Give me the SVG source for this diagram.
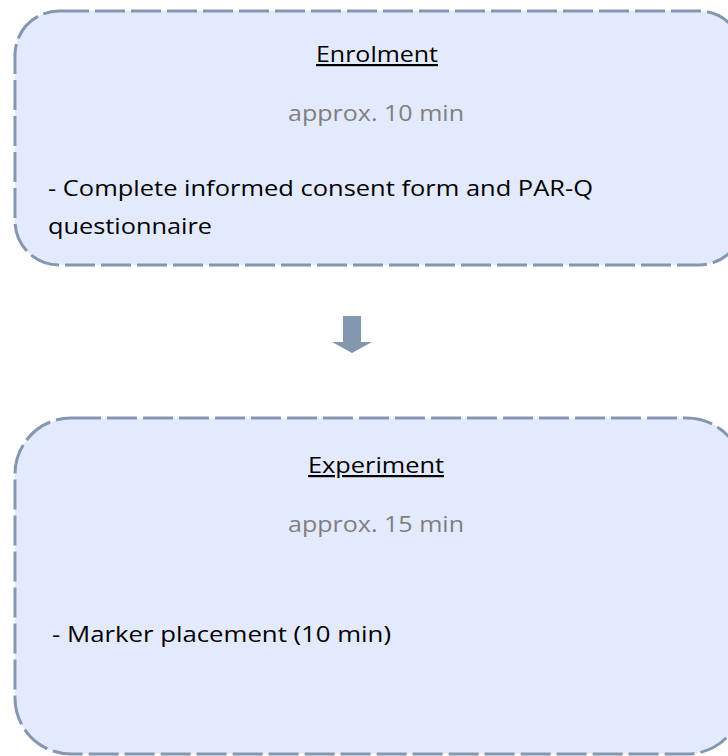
<svg xmlns="http://www.w3.org/2000/svg" width="728" height="756" viewBox="0 0 728 756">
<style>
.box{fill:#e4eafd;stroke:#8497b0;stroke-width:3;stroke-dasharray:30 6}
text{font-family:"Open Sans","Noto Sans","Liberation Sans",sans-serif;font-size:22px;fill:#000}
.t{text-anchor:middle;text-decoration:underline}
.g{text-anchor:middle;fill:#7f7f7f}
</style>
<rect width="728" height="756" fill="#ffffff"/>
<g id="enrolment">
<rect class="box" x="15" y="11" width="728" height="254" rx="44" ry="44"/>
<text class="t" x="377" y="62" textLength="122" lengthAdjust="spacingAndGlyphs">Enrolment</text>
<text class="g" x="376" y="121" textLength="176" lengthAdjust="spacingAndGlyphs">approx. 10 min</text>
<text x="48" y="196" textLength="545" lengthAdjust="spacingAndGlyphs">- Complete informed consent form and PAR-Q</text>
<text x="48" y="234" textLength="164" lengthAdjust="spacingAndGlyphs">questionnaire</text>
</g>
<g id="connectors">
<polygon points="343,316 361,316 361,342 372,342 352,353 332,342 343,342" fill="#8497b0"/>
</g>
<g id="experiment">
<rect class="box" x="15" y="418" width="728" height="336" rx="56" ry="56"/>
<text class="t" x="376" y="473" textLength="136" lengthAdjust="spacingAndGlyphs">Experiment</text>
<text class="g" x="376" y="532" textLength="176" lengthAdjust="spacingAndGlyphs">approx. 15 min</text>
<text x="52" y="642" textLength="339" lengthAdjust="spacingAndGlyphs">- Marker placement (10 min)</text>
</g>
</svg>
